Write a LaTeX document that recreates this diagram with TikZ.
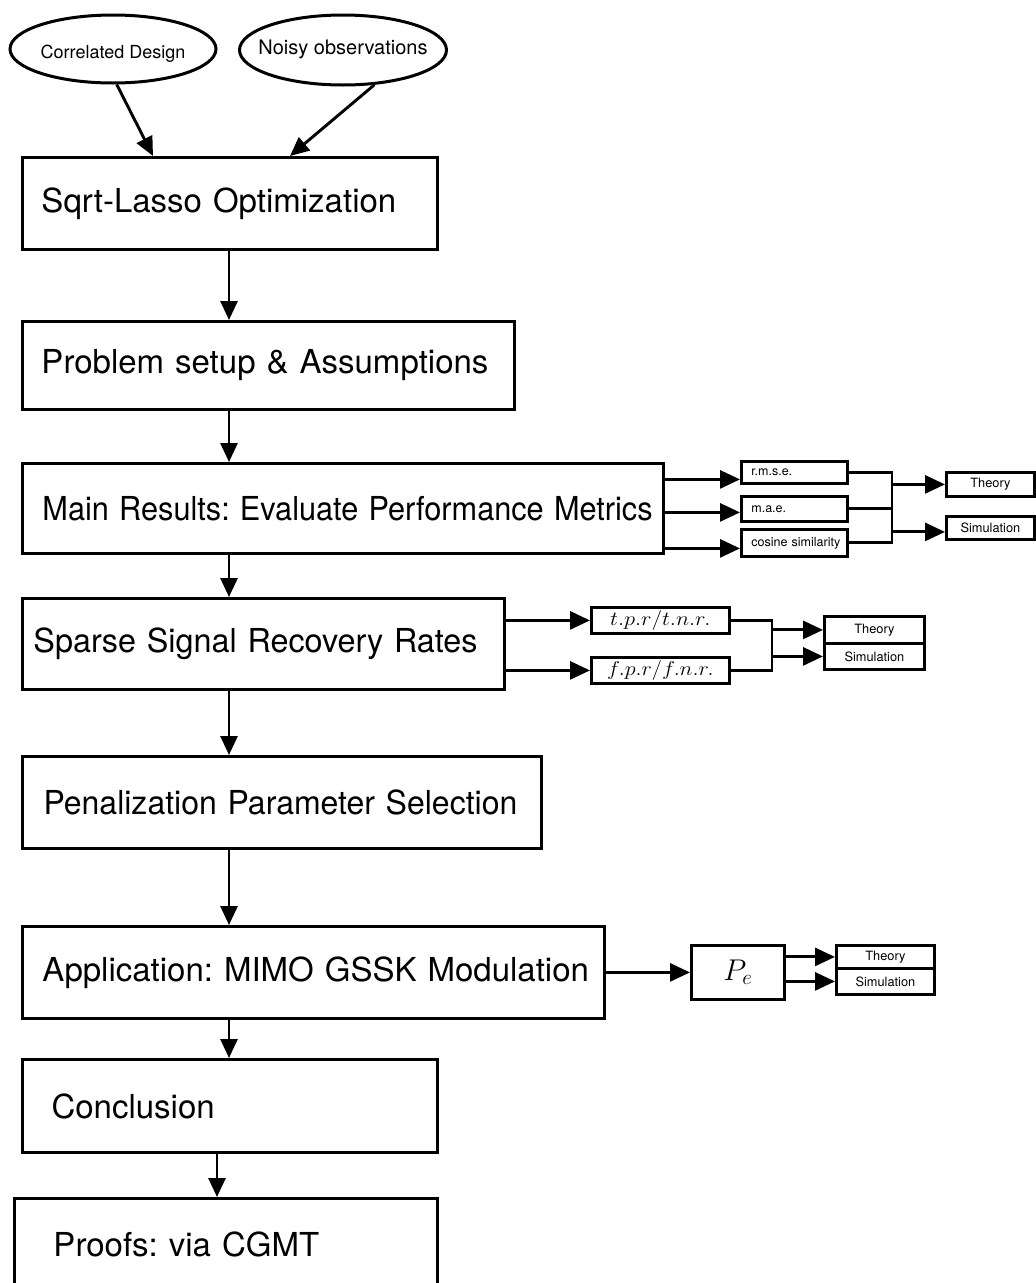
\RequirePackage{fix-cm}
\documentclass[tikz,border=0pt]{standalone}
\usepackage{graphicx}
\usepackage{fontspec}
\setmainfont{TeX Gyre Heros}
\frenchspacing
\usetikzlibrary{arrows.meta,shapes.geometric}
\tikzset{
 bx/.style={draw, line width=3pt, anchor=north west, inner sep=0pt, align=left, font=\fontsize{33}{40}\selectfont},
 sbl/.style={draw, line width=2.8pt, anchor=north west, inner sep=0pt, align=left, font=\fontsize{12.5}{15}\selectfont},
 sbc/.style={draw, line width=2.8pt, anchor=north west, inner sep=0pt, align=center, font=\fontsize{12.8}{15}\selectfont},
 mbx/.style={draw, line width=2.8pt, anchor=north west, inner sep=0pt},
 ell/.style={draw, ellipse, line width=3pt, inner sep=0pt},
 arr/.style={line width=2.9pt, -{Triangle[length=19pt,width=17pt]}},
 arrs/.style={line width=2.9pt, -{Triangle[length=20pt,width=18pt]}},
 ln/.style={line width=2.9pt},
}
\begin{document}
\begin{tikzpicture}[x=1pt,y=-1pt]
\useasboundingbox (0,0) rectangle (1036,1283);
% ellipses
\node[ell, minimum width=206pt, minimum height=68pt,
  label={[yshift=-5pt, font=\fontsize{18}{22}\selectfont]center:Correlated Design}] (cd) at (113,49) {};
\node[ell, minimum width=207pt, minimum height=70pt,
  label={[yshift=1pt, font=\fontsize{20}{24}\selectfont]center:Noisy observations}] (no) at (343,50) {};
% main column
\node[bx, minimum width=415pt, minimum height=92pt, text width=415pt] (sqrt) at (21,156) {\hspace*{19pt}Sqrt-Lasso Optimization};
\node[bx, minimum width=492pt, minimum height=88pt, text width=492pt] (prob) at (21,320) {\hspace*{19pt}Problem setup \& Assumptions};
\node[bx, minimum width=641pt, minimum height=90pt, text width=641pt] (main) at (21,462) {\hspace*{20pt}\scalebox{0.93}[1]{Main Results: Evaluate Performance Metrics}};
\node[bx, minimum width=482pt, minimum height=91pt, text width=482pt] (sparse) at (21,597) {\hspace*{11pt}\scalebox{0.98}[1]{Sparse Signal Recovery Rates}};
\node[bx, minimum width=519pt, minimum height=92pt, text width=519pt] (pen) at (21,755) {\hspace*{21pt}\scalebox{0.97}[1]{Penalization Parameter Selection}};
\node[bx, minimum width=582pt, minimum height=92pt, text width=582pt] (app) at (21,925) {\hspace*{20pt}Application: MIMO GSSK Modulation};
\node[bx, minimum width=415pt, minimum height=93pt, text width=415pt] (conc) at (21,1058) {\hspace*{29pt}Conclusion};
\node[bx, minimum width=423pt, minimum height=92pt, text width=423pt] (proofs) at (13,1197) {\hspace*{39pt}Proofs: via CGMT};
% main results branch
\node[sbl, minimum width=106pt, minimum height=22pt, text width=106pt] (rmse) at (740,460) {\hspace*{10pt}r.m.s.e.};
\node[sbl, minimum width=106pt, minimum height=25pt, text width=106pt] (mae) at (740,495) {\hspace*{10pt}m.a.e.};
\node[sbl, minimum width=106pt, minimum height=27pt, text width=106pt] (cos) at (740,528) {\hspace*{10pt}cosine similarity};
\node[sbc, minimum width=88pt, minimum height=24pt] (th1) at (945,471) {Theory};
\node[sbc, minimum width=88pt, minimum height=23pt] (sim1) at (945,515) {Simulation};
% sparse branch
\node[mbx, minimum width=138pt, minimum height=26pt, font=\fontsize{20}{24}\selectfont] (tpr) at (590,606) {\scalebox{1.12}[1]{$t.p.r/t.n.r.$}};
\node[mbx, minimum width=138pt, minimum height=26pt, font=\fontsize{20}{24}\selectfont] (fpr) at (590,656) {\scalebox{1.1}[1]{$f.p.r/f.n.r.$}};
\node[sbc, minimum width=100pt, minimum height=27pt] (th2) at (823,615) {Theory};
\node[sbc, minimum width=100pt, minimum height=26pt] (sim2) at (823,642) {Simulation};
% application branch
\node[mbx, minimum width=93pt, minimum height=54pt, font=\fontsize{30}{34}\selectfont] (pe) at (690,944) {$P_e$};
\node[sbc, minimum width=98pt, minimum height=23pt] (th3) at (835,944) {Theory};
\node[sbc, minimum width=98pt, minimum height=26pt] (sim3) at (835,967) {Simulation};
% coordinates
\coordinate (ax) at (229,0);
\coordinate (ax2) at (217,0);
\coordinate (b1) at (892,0);
\coordinate (b2) at (772,0);
% top arrows
\draw[arr] (cd.-84) -- ([xshift=132pt]sqrt.north west);
\draw[arr] (no.-48) -- ([xshift=269pt]sqrt.north west);
% vertical flow
\draw[arr] (sqrt.south -| ax) -- (prob.north -| ax);
\draw[arr] (prob.south -| ax) -- (main.north -| ax);
\draw[arr] (main.south -| ax) -- (sparse.north -| ax);
\draw[arr] (sparse.south -| ax) -- (pen.north -| ax);
\draw[arr] (pen.south -| ax) -- (app.north -| ax);
\draw[arr] (app.south -| ax) -- (conc.north -| ax);
\draw[arr] (conc.south -| ax2) -- (proofs.north -| ax2);
% main results connectors
\coordinate (r1) at ([yshift=-7pt]rmse.west);
\coordinate (r2) at ([yshift=-3.5pt]mae.west);
\coordinate (r3) at ([yshift=-5.5pt]cos.west);
\draw[arrs] (r1 -| main.east) -- (r1);
\draw[arrs] (r2 -| main.east) -- (r2);
\draw[arrs] (r3 -| main.east) -- (r3);
\draw[ln] (rmse.east) -| (cos.east -| b1) -- (cos.east);
\draw[ln] (mae.east) -- (mae.east -| b1);
\coordinate (s1) at ([yshift=-4pt]sim1.west);
\draw[arrs] (th1.west -| b1) -- (th1.west);
\draw[arrs] (s1 -| b1) -- (s1);
% sparse connectors
\draw[arrs] (tpr.west -| sparse.east) -- (tpr.west);
\draw[arrs] (fpr.west -| sparse.east) -- (fpr.west);
\draw[ln] (tpr.east) -| (fpr.east -| b2) -- (fpr.east);
\draw[arrs] (th2.west -| b2) -- (th2.west);
\draw[arrs] (sim2.west -| b2) -- (sim2.west);
% application connectors
\draw[arrs] (pe.west -| app.east) -- (pe.west);
\draw[arrs] (th3.west -| pe.east) -- (th3.west);
\draw[arrs] (sim3.west -| pe.east) -- (sim3.west);
\end{tikzpicture}
\end{document}
